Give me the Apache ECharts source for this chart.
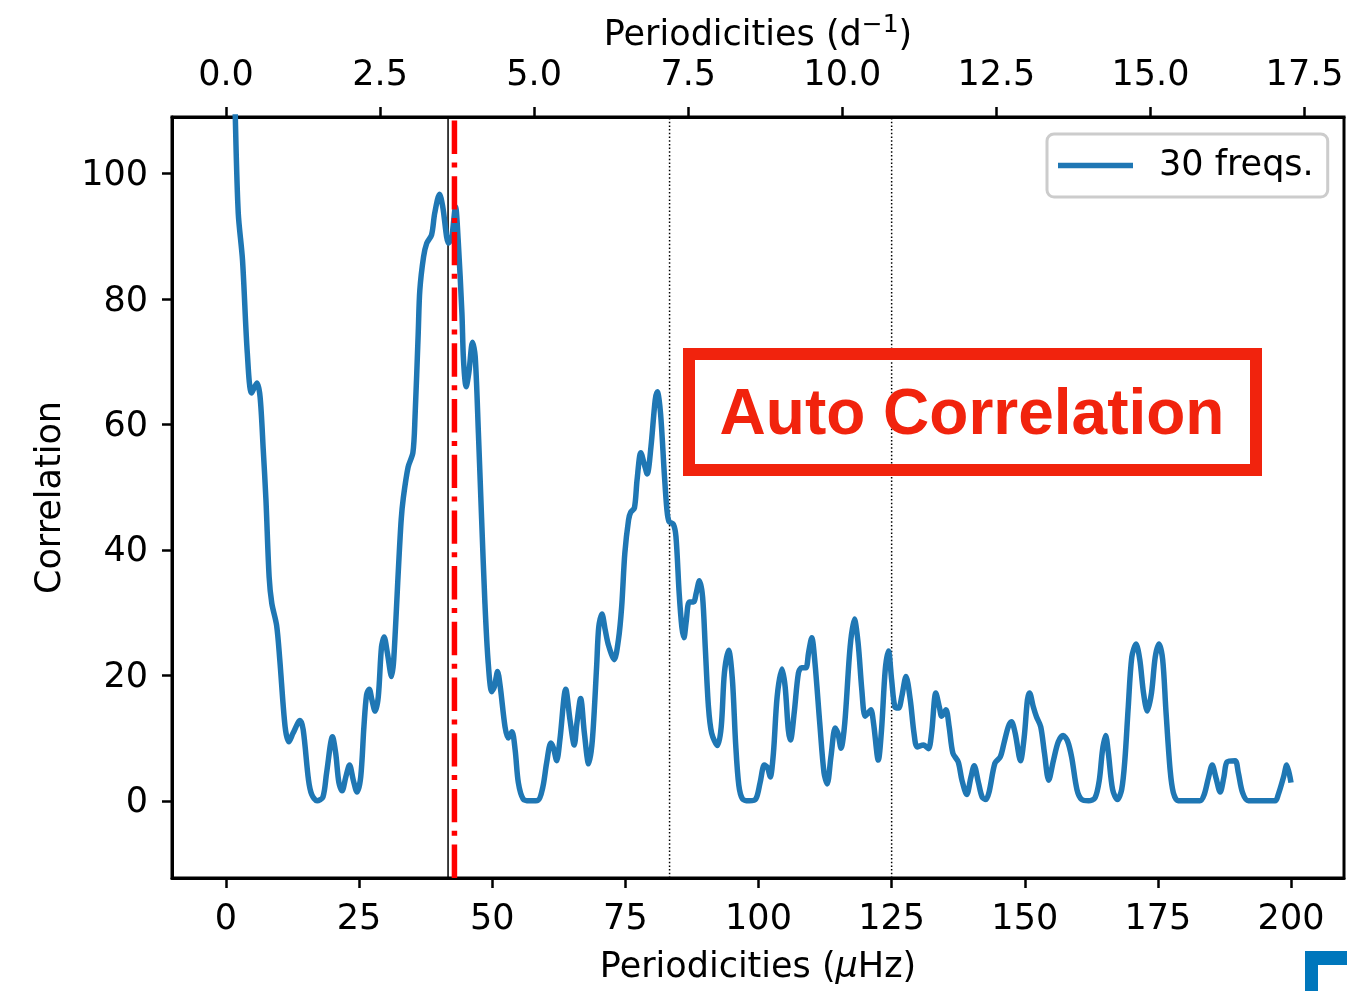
<!DOCTYPE html>
<html><head><meta charset="utf-8">
<style>html,body{margin:0;padding:0;background:#fff}#c{width:1347px;height:991px}</style>
<script src="https://cdn.jsdelivr.net/npm/echarts@6/dist/echarts.min.js"></script>
</head><body><div id="c"></div>
<script>
const freq = [1.4,1.75,2.3,3.1,4.0,4.8,5.8,6.4,7.0,7.5,8.1,8.6,9.5,10.1,11.1,11.8,12.6,13.9,14.5,15.5,16.1,17.1,18.2,18.9,20,20.6,21.2,21.8,22.5,23.2,23.9,24.6,25.3,25.9,26.4,26.9,27.4,28,28.6,29.2,29.7,30.3,31.1,31.5,32.4,32.9,33.3,34.2,35.1,35.5,36.1,36.4,37.1,37.7,38.6,39.2,40.1,40.7,41.8,42.4,43.1,43.6,44.3,44.6,45.1,45.6,46.3,46.8,47.4,48,48.6,49.2,49.9,50.4,51,51.5,52.4,53,53.7,54.3,54.9,55.8,57.1,58.6,59.5,60.2,61,61.5,62.1,62.7,63.8,64.6,65.4,65.9,66.6,67.3,68.1,68.8,69.6,70,70.6,71.2,71.8,72.9,73.7,74.3,74.9,75.6,76,76.7,77.2,77.9,78.6,79.1,79.8,80.6,81,81.6,82.3,82.8,83.2,84,84.5,85.1,85.6,86,86.4,87,87.8,88.3,88.9,89.5,90,90.6,91.2,92.3,93,93.6,94.4,95.1,95.7,96.3,97,98.3,99.5,100.3,101.1,101.7,102.2,102.8,103.5,104.4,105,105.6,106,106.7,107.5,108.1,108.9,109.4,110,110.6,111.5,112.3,112.9,113.6,114.4,114.9,115.5,116.2,117.2,118,118.7,119.4,120,120.6,121.1,121.6,122.5,123.1,123.8,124.4,125,125.6,126.3,126.9,127.7,128.5,129.2,129.8,131,131.9,132.5,133.3,134,134.4,135.2,135.8,136.5,137.5,138.2,139.1,139.9,140.5,141.3,142,142.7,143.3,144.4,145.4,146.1,146.9,147.5,148.2,149.2,149.9,150.5,150.9,151.6,152.2,153,153.7,154.5,155.4,156.3,157.2,158,158.8,159.8,160.7,162,163.2,164,164.6,165.2,165.7,166.5,167.4,168.2,168.8,169.4,170.1,170.9,171.6,172.3,173,173.8,174.5,175.2,175.9,176.5,177.3,177.9,178.8,180.4,182.9,183.7,184.5,185.2,185.9,186.7,187.4,188,189.5,190.1,190.9,192,197,197.6,198.6,199.2,200];
const corr = [125,109,93.7,86.2,71.4,65,66.6,64.4,55.9,48,35.7,31.5,28,22.5,11.8,9.4,10.8,12.8,11.3,3.3,1,0,0.6,4.5,10.2,7.6,2.9,1.6,3.8,5.7,3.3,1.4,3.8,11.8,16.9,17.8,16.1,14.3,16.6,24.5,26.1,23.6,19.8,22.5,37.3,44.8,48.3,53.2,55.5,61.2,74.6,81.4,86.7,88.9,90.2,93.7,96.7,94.7,88.9,89.9,94.7,89.4,77.8,70.3,66,68.2,73.1,70.8,58.6,45,32,22.5,17.4,18.2,20.6,18.2,11.8,10,11,8.1,2.9,0.3,0,0.1,2.2,6,9.2,8.4,6.4,9.7,17.8,12.9,8.9,12.4,16.3,10.8,5.9,9.7,21.4,27.7,29.8,27.3,24.9,22.5,25.7,30.9,39.5,44.8,46,46.7,51.2,55.5,53.5,52.1,56.4,63.9,65.2,61.8,52.3,46.4,44.5,44.1,42.1,33.1,27.7,26,28.4,31.7,31.7,33.1,35.1,32.5,24.5,15,10.8,8.8,11.8,20.4,24,19.3,9.2,2.5,0.3,0,0.3,2.9,5.7,5.3,3.8,7.6,16.6,21,18.2,11.3,9.7,14,20.4,21.2,21.2,23.6,26,22,12.4,4.5,2.7,7,11.6,10.8,8.4,12.4,24.5,29,25.2,17.7,13.5,14,14.5,12.4,6.5,11.3,20.9,23.9,19.3,15,14.8,16.6,19.8,16.1,10.8,8.6,8.9,8.3,10.8,17.2,14.8,13.5,14.5,11.8,7.6,6.2,3.3,1,3.8,5.6,2.9,0.6,0.2,1.4,6,7,9.2,11.8,12.6,10.8,6.4,10.2,16.1,17.2,15,13.4,11.8,7.6,3.3,6.5,9.4,10.4,9.6,7,1.8,0.2,0,0.5,3.3,8.1,10.4,7.6,1.8,0.2,1.8,6.5,14.5,22.9,25,22.5,17.2,14.3,17.2,22.9,25,22.5,14.5,4.9,1.3,0,0,0,1,3.7,5.7,3.7,1.4,3.8,6.2,6.4,4.5,1.3,0,0,1,3.8,5.7,2.9];
const xTicks = [0,25,50,75,100,125,150,175,200];
const yTicks = [0,20,40,60,80,100];
const topTicks = [0,2.5,5,7.5,10,12.5,15,17.5];
const xRange = [-10.14, 209.95];
const yRange = [-12.3, 109];
const dayFactor = 0.0864;
const blackLine = 41.7;
const redLine = 42.9;
const dottedLines = [83.3, 125];
const seriesName = '30 freqs.';
const annotation = 'Auto Correlation';

const FONT = '"DejaVu Sans"';
const FS = 35;
const pairs = freq.map((f,i)=>[f,corr[i]]);
const vline = (x,style,z)=>({type:'line',xAxisIndex:0,yAxisIndex:0,data:[[x,yRange[0]],[x,yRange[1]]],
  showSymbol:false,symbol:'none',silent:true,lineStyle:style,z:z});
const axisCommon = {
  axisLine:{show:true,onZero:false,lineStyle:{color:'#000',width:3}},
  splitLine:{show:false},
  nameMoveOverlap:false
};
const chart = echarts.init(document.getElementById('c'),null,{renderer:'canvas'});
chart.setOption({
  animation:false,
  backgroundColor:'#fff',
  grid:{left:172,top:117,width:1172,height:761,show:true,borderColor:'#000',borderWidth:3,backgroundColor:'transparent'},
  legend:{
    data:[seriesName],left:1047,top:134,orient:'horizontal',
    backgroundColor:'rgba(255,255,255,0.8)',borderColor:'#ccc',borderWidth:3,borderRadius:7,
    padding:[14,14,14,11],icon:'rect',itemWidth:75,itemHeight:5.5,
    textStyle:{fontFamily:FONT,fontSize:FS,color:'#000',padding:[0,0,0,21]}
  },
  xAxis:[
    {type:'value',position:'bottom',min:xRange[0],max:xRange[1],...axisCommon,
     axisTick:{show:true,customValues:xTicks,length:10,lineStyle:{color:'#000',width:2.5}},
     axisLabel:{show:true,customValues:xTicks,color:'#000',fontFamily:FONT,fontSize:FS,margin:24,formatter:v=>String(v)},
     name:'{a|Periodicities (}{i|μ}{a|Hz)}',nameLocation:'middle',nameGap:72,
     nameTextStyle:{rich:{a:{fontFamily:FONT,fontSize:FS,color:'#000'},i:{fontFamily:FONT,fontSize:FS,fontStyle:'italic',color:'#000'}}}},
    {type:'value',position:'top',min:xRange[0]*dayFactor,max:xRange[1]*dayFactor,...axisCommon,
     axisTick:{show:true,customValues:topTicks,length:10,lineStyle:{color:'#000',width:2.5}},
     axisLabel:{show:true,customValues:topTicks,color:'#000',fontFamily:FONT,fontSize:FS,margin:24,formatter:v=>v.toFixed(1)},
     name:'{a|Periodicities (d}{s|−1}{a|)}',nameLocation:'middle',nameGap:58,
     nameTextStyle:{rich:{a:{fontFamily:FONT,fontSize:FS,color:'#000',lineHeight:46},s:{fontFamily:FONT,fontSize:25,color:'#000',lineHeight:24,verticalAlign:'top'}}}}
  ],
  yAxis:{type:'value',min:yRange[0],max:yRange[1],...axisCommon,
     axisTick:{show:true,customValues:yTicks,length:10,lineStyle:{color:'#000',width:2.5}},
     axisLabel:{show:true,customValues:yTicks,color:'#000',fontFamily:FONT,fontSize:FS,margin:24,verticalAlign:'top',lineHeight:5,formatter:v=>String(v)},
     name:'Correlation',nameLocation:'middle',nameGap:104,nameRotate:90,
     nameTextStyle:{fontFamily:FONT,fontSize:FS,color:'#000'}},
  series:[
    {name:seriesName,type:'line',data:pairs,showSymbol:false,symbol:'none',smooth:0.3,clip:true,
     lineStyle:{color:'#1f77b4',width:5.5},itemStyle:{color:'#1f77b4'},z:3},
    vline(blackLine,{color:'#000',width:1.5},2),
    ...dottedLines.map(x=>vline(x,{color:'#000',width:1.5,type:[1.5,2.2]},2)),
    vline(redLine,{color:'#ff0000',width:5.5,type:[33.4,8.8,5,8.5]},4)
  ],
  graphic:[
    {type:'rect',shape:{x:689,y:354,width:567,height:116},style:{fill:'none',stroke:'#f1230d',lineWidth:12},z:10},
    {type:'text',x:972,y:416,style:{text:annotation,fill:'#f1230d',font:'bold 64px "Liberation Sans"',textAlign:'center',textVerticalAlign:'middle'},z:10},
    {type:'rect',shape:{x:1305,y:951,width:42,height:14},style:{fill:'#0077bc'},z:10},
    {type:'rect',shape:{x:1305,y:951,width:13,height:40},style:{fill:'#0077bc'},z:10}
  ]
});
</script></body></html>
